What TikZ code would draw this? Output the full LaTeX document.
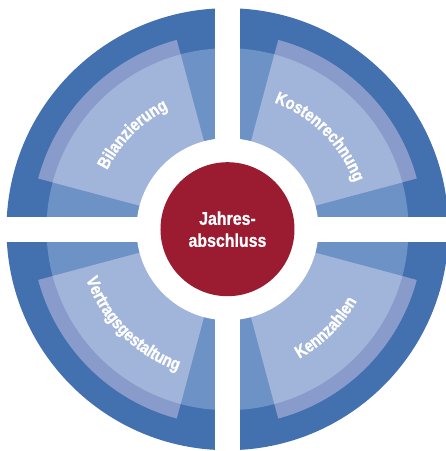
\documentclass[tikz,border=0pt]{standalone}
\usepackage{fontspec}
\setmainfont{Liberation Sans}
\newfontfamily\qbold[FakeStretch=0.86,FakeBold=0.8]{Liberation Sans Bold}
\newfontfamily\qheavy[FakeStretch=0.84,FakeBold=1.2]{Liberation Sans Bold}
\usetikzlibrary{decorations.text}
\definecolor{ringdark}{HTML}{4370AF}
\definecolor{ringmed}{HTML}{6C92C6}
\definecolor{wedgelight}{HTML}{A1B5DB}
\definecolor{wedgeband}{HTML}{899BCA}
\definecolor{corered}{HTML}{9B1B30}
\tikzset{
  arclabel/.style={decorate, decoration={text along path, text align=center,
     text color=white, text={|\qheavy\fontsize{17.5pt}{20pt}\selectfont|#1}}},
  corenode/.style={circle, fill=corered, minimum size=134pt, inner sep=0pt,
     text=white, align=center, font=\qbold\fontsize{18.5pt}{22pt}\selectfont}
}
\begin{document}
\begin{tikzpicture}[x=1pt,y=1pt]
\useasboundingbox (-227.5,-221.8) rectangle (218.5,229.2);
\coordinate (c) at (0,0);
% rings
\fill[ringdark] (c) circle[radius=221pt];
\fill[ringmed] (c) circle[radius=181pt];
% wedges
\foreach \a in {0,90,180,270}{
  \fill[wedgeband] (c) -- (\a+15:196pt) arc[start angle=\a+15, end angle=\a+75, radius=196pt] -- cycle;
  \fill[wedgelight] (c) -- (\a+15:181pt) arc[start angle=\a+15, end angle=\a+75, radius=181pt] -- cycle;
}
% white inner circle and gaps
\fill[white] (c) circle[radius=91pt];
\fill[white] (-12.5,-235) rectangle (12.5,235);
\fill[white] (-235,-12.5) rectangle (235,12.5);
% centre
\node[corenode] (core) at (c) {Jahres-\\abschluss};
% labels along arcs
\path[arclabel=Bilanzierung] (170:134pt) arc[start angle=170, end angle=100, radius=134pt];
\path[arclabel=Kostenrechnung] (80:135pt) arc[start angle=80, end angle=10, radius=135pt];
\path[arclabel=Kennzahlen] (-80:148pt) arc[start angle=-80, end angle=-10, radius=148pt];
\path[arclabel=Vertragsgestaltung] (-170:150pt) arc[start angle=-170, end angle=-100, radius=150pt];
\end{tikzpicture}
\end{document}
